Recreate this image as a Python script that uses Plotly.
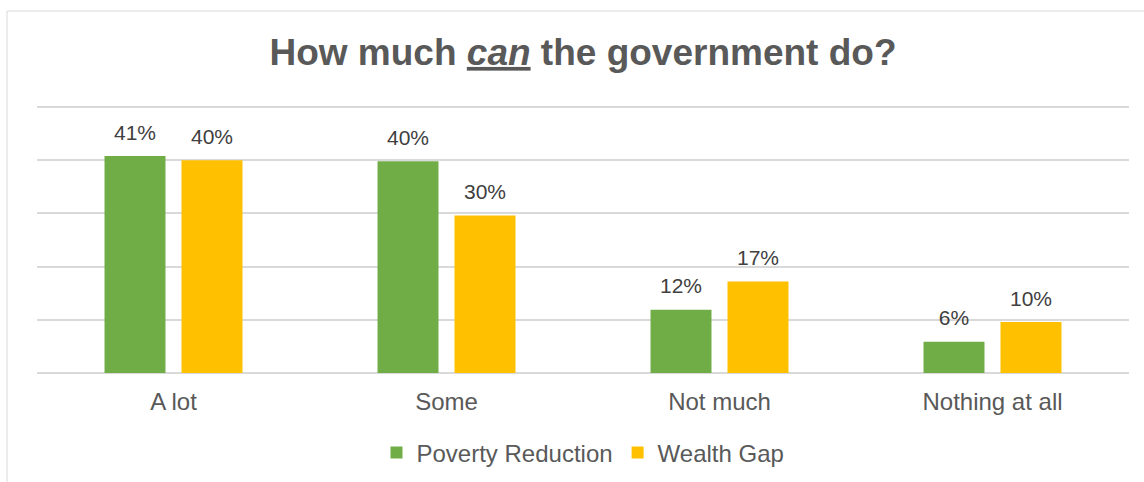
import plotly.graph_objects as go

categories = ["A lot", "Some", "Not much", "Nothing at all"]
poverty_reduction = [40.8, 39.8, 11.9, 5.9]
wealth_gap = [40.0, 29.6, 17.2, 9.6]
series_names = ["Poverty Reduction", "Wealth Gap"]
series_colors = ["#70AD47", "#FFC000"]

FONT = "Arial, Liberation Sans, sans-serif"
BARGAP = 0.436

fig = go.Figure()
for name, vals, col in zip(series_names, [poverty_reduction, wealth_gap], series_colors):
    fig.add_trace(go.Bar(
        x=categories, y=vals, name=name,
        marker=dict(color=col, line=dict(width=0)),
        offsetgroup=name, hoverinfo="x+y+name",
    ))
# data labels, grouped to sit above the bars
for name, vals in zip(series_names, [poverty_reduction, wealth_gap]):
    fig.add_trace(go.Scatter(
        x=categories, y=vals, mode="markers+text", name=name + " label",
        marker=dict(size=16, opacity=0, color="white"),
        texttemplate="%{y:.0f}%", textposition="top center",
        textfont=dict(family=FONT, size=21, color="#404040"),
        offsetgroup=name, showlegend=False, hoverinfo="skip",
        cliponaxis=False,
    ))

W, H = 1144, 482
L, R, T, B = 37, 15, 105, 109
pw = W - L - R
ph = H - T - B

fig.update_layout(
    width=W, height=H,
    margin=dict(l=L, r=R, t=T, b=B, pad=0, autoexpand=False),
    paper_bgcolor="white", plot_bgcolor="white",
    barmode="group", bargap=BARGAP, bargroupgap=0.208,
    scattermode="group", scattergap=BARGAP,
    title=dict(
        text="<b>How much <i><u>can</u></i> the government do?</b>",
        font=dict(family=FONT, size=37, color="#595959"),
        x=0.5, xref="paper", xanchor="center",
        y=1 - 52 / H, yref="container", yanchor="middle",
    ),
    showlegend=True,
    legend=dict(
        orientation="h", x=(583 - L) / pw, xanchor="center",
        y=(H - B - 453) / ph, yanchor="middle",
        font=dict(family=FONT, size=24, color="#595959"),
        traceorder="normal", bgcolor="rgba(0,0,0,0)",
    ),
    xaxis=dict(
        showgrid=False, showline=False, zeroline=False, ticks="",
        ticklabelstandoff=12, automargin=False,
        tickfont=dict(family=FONT, size=24, color="#595959"),
    ),
    yaxis=dict(
        range=[0, 50.4], dtick=10, tick0=0, showticklabels=False, ticks="",
        showgrid=True, gridcolor="#d9d9d9", gridwidth=1.5,
        zeroline=True, zerolinecolor="#d9d9d9", zerolinewidth=1.5,
        showline=False, automargin=False,
    ),
    shapes=[dict(
        type="rect", xref="paper", yref="paper",
        x0=(7 - L) / pw, x1=1.1, y0=-1.0, y1=(H - B - 11) / ph,
        line=dict(color="#d9d9d9", width=1), fillcolor="rgba(0,0,0,0)",
        layer="below",
    )],
)

fig.write_html("out.html", config={"displayModeBar": False},
               post_script="document.body.style.margin='0';")
